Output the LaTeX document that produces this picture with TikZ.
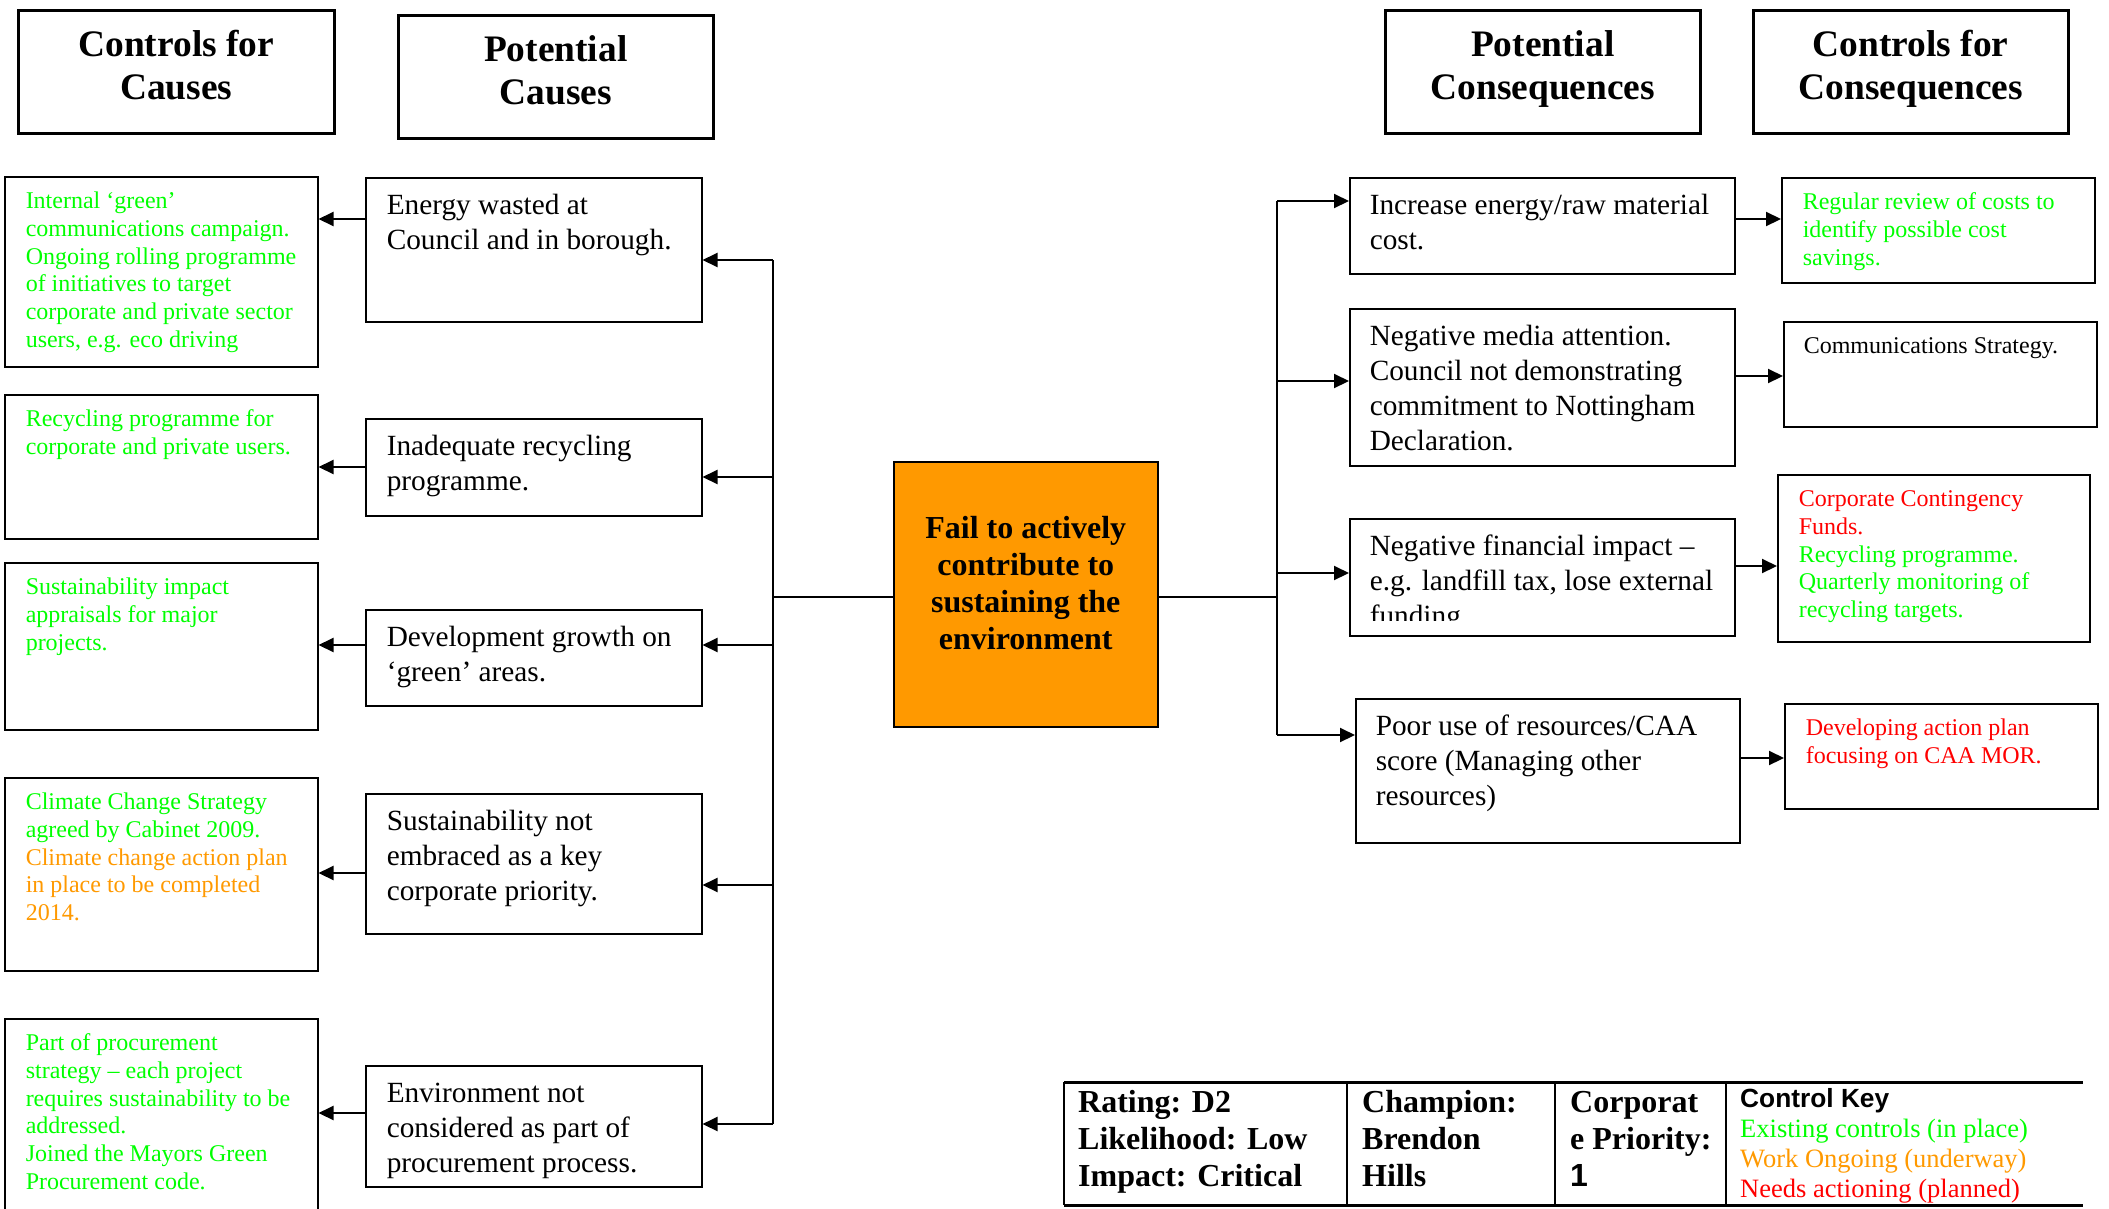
\documentclass[tikz,border=0pt]{standalone}
\usepackage{fontspec}
\setmainfont{Liberation Serif}
\newfontfamily\keysans{Liberation Sans}
\usetikzlibrary{arrows.meta}

\definecolor{inplace}{RGB}{0,255,0}
\definecolor{underway}{RGB}{255,153,0}
\definecolor{planned}{RGB}{255,0,0}
\definecolor{riskfill}{RGB}{255,153,0}

\newcommand\bodyfont{\fontsize{29.3}{35}\selectfont}
\newcommand\ctlfont{\fontsize{24}{27.7}\selectfont}
\newcommand\headfont{\fontsize{37.4}{43}\selectfont\bfseries}
\newcommand\riskfont{\fontsize{32}{37}\selectfont\bfseries}
\newcommand\keyfont{\fontsize{26.5}{30}\selectfont}

% left-aligned box text: [indent]{width}{height}{rows}
\newcommand\tb[4][21]{\parbox[c][#3pt][t]{#2pt}{\vspace*{12.5pt}\hspace*{#1pt}\begin{tabular}[t]{@{}l@{}}#4\end{tabular}}}
% centred box text: [top gap]{width}{height}{rows}
\newcommand\cb[4][15.9]{\parbox[c][#3pt][t]{#2pt}{\centering\vspace*{#1pt}\begin{tabular}[t]{@{}c@{}}#4\end{tabular}}}

\tikzset{
  box/.style={draw, line width=1.5pt, inner sep=0pt, anchor=north west},
  headbox/.style={box, line width=2.5pt, font=\headfont},
  ctlbox/.style={box, font=\ctlfont},
  causebox/.style={box, font=\bodyfont},
  riskbox/.style={box, fill=riskfill, font=\riskfont},
  arr/.style={line width=2pt, -{Triangle[length=15pt,width=14pt]}},
  wire/.style={line width=2pt},
  cell/.style={anchor=north west, inner sep=0pt},
}

\begin{document}
\begin{tikzpicture}[x=1pt,y=-1pt]
\useasboundingbox (0,0) rectangle (2109,1208);

% column headings
\node[headbox] (h1) at (17,9)    {\cb{316}{123}{Controls for\\Causes}};
\node[headbox] (h2) at (397,14)  {\cb{315}{123}{Potential\\Causes}};
\node[headbox] (h3) at (1384,9)  {\cb{315}{123}{Potential\\Consequences}};
\node[headbox] (h4) at (1752,9)  {\cb{315}{123}{Controls for\\Consequences}};

% controls for causes
\node[ctlbox, text=inplace] (k1) at (4,176) {\tb{313}{190}{Internal ‘green’\\communications campaign.\\Ongoing rolling programme\\of initiatives to target\\corporate and private sector\\users, e.g. eco driving}};
\node[ctlbox, text=inplace] (k2) at (4,394) {\tb{313}{144}{Recycling programme for\\corporate and private users.}};
\node[ctlbox, text=inplace] (k3) at (4,562) {\tb{313}{167}{Sustainability impact\\appraisals for major\\projects.}};
\node[ctlbox, text=inplace] (k4) at (4,777) {\tb{313}{193}{Climate Change Strategy\\agreed by Cabinet 2009.\\\color{underway}Climate change action plan\\\color{underway}in place to be completed\\\color{underway}2014.}};
\node[ctlbox, text=inplace] (k5) at (4,1018) {\tb{313}{196}{Part of procurement\\strategy – each project\\requires sustainability to be\\addressed.\\Joined the Mayors Green\\Procurement code.}};

% potential causes
\node[causebox] (c1) at (365,177)  {\tb{336}{144}{Energy wasted at\\Council and in borough.}};
\node[causebox] (c2) at (365,418)  {\tb{336}{97}{Inadequate recycling\\programme.}};
\node[causebox] (c3) at (365,609)  {\tb{336}{96}{Development growth on\\‘green’ areas.}};
\node[causebox] (c4) at (365,793)  {\tb{336}{140}{Sustainability not\\embraced as a key\\corporate priority.}};
\node[causebox] (c5) at (365,1065) {\tb{336}{121}{Environment not\\considered as part of\\procurement process.}};

% central risk
\node[riskbox] (risk) at (893,461) {\cb[51.1]{264}{265}{Fail to actively\\contribute to\\sustaining the\\environment}};

% potential consequences
\node[causebox] (q1) at (1349,177) {\tb[20]{385}{96}{Increase energy/raw material\\cost.}};
\node[causebox] (q2) at (1349,308) {\tb[20]{385}{157}{Negative media attention.\\Council not demonstrating\\commitment to Nottingham\\Declaration.}};
\node[causebox] (q3) at (1349,518) {\tb[20]{385}{117}{Negative financial impact –\\e.g. landfill tax, lose external\\funding}};
\fill[white] (1351,621) rectangle (1732,634);
\node[causebox] (q4) at (1355,698) {\tb[20]{384}{144}{Poor use of resources/CAA\\score (Managing other\\resources)}};

% controls for consequences
\node[ctlbox, text=inplace] (r1) at (1781,177) {\tb{313}{105}{Regular review of costs to\\identify possible cost\\savings.}};
\node[ctlbox] (r2) at (1783,321) {\tb[20]{313}{105}{Communications Strategy.}};
\node[ctlbox, text=planned] (r3) at (1777,474) {\tb{312}{167}{Corporate Contingency\\Funds.\\\color{inplace}Recycling programme.\\\color{inplace}Quarterly monitoring of\\\color{inplace}recycling targets.}};
\node[ctlbox, text=planned] (r4) at (1784,703) {\tb{313}{105}{Developing action plan\\focusing on CAA MOR.}};

% cause side connectors
\coordinate (lj)  at (773,597);
\coordinate (lj1) at (773,260);
\coordinate (lj2) at (773,477);
\coordinate (lj3) at (773,645);
\coordinate (lj4) at (773,885);
\coordinate (lj5) at (773,1124);
\draw[wire] (risk.west |- lj) -- (lj);
\draw[wire] (lj1) -- (lj5);
\draw[arr] (lj1) -- (lj1 -| c1.east);
\draw[arr] (lj2) -- (lj2 -| c2.east);
\draw[arr] (lj3) -- (lj3 -| c3.east);
\draw[arr] (lj4) -- (lj4 -| c4.east);
\draw[arr] (lj5) -- (lj5 -| c5.east);

\draw[arr] (c1.west |- 0,219)  -- (k1.east |- 0,219);
\draw[arr] (c2.west |- 0,467)  -- (k2.east |- 0,467);
\draw[arr] (c3.west |- 0,645)  -- (k3.east |- 0,645);
\draw[arr] (c4.west |- 0,873)  -- (k4.east |- 0,873);
\draw[arr] (c5.west |- 0,1113) -- (k5.east |- 0,1113);

% consequence side connectors
\coordinate (rj)  at (1277,597);
\coordinate (rj1) at (1277,201);
\coordinate (rj2) at (1277,381);
\coordinate (rj3) at (1277,573);
\coordinate (rj4) at (1277,735);
\draw[wire] (risk.east |- rj) -- (rj);
\draw[wire] (rj1) -- (rj4);
\draw[arr] (rj1) -- (rj1 -| q1.west);
\draw[arr] (rj2) -- (rj2 -| q2.west);
\draw[arr] (rj3) -- (rj3 -| q3.west);
\draw[arr] (rj4) -- (rj4 -| q4.west);

\draw[arr] (q1.east |- 0,219) -- (r1.west |- 0,219);
\draw[arr] (q2.east |- 0,376) -- (r2.west |- 0,376);
\draw[arr] (q3.east |- 0,566) -- (r3.west |- 0,566);
\draw[arr] (q4.east |- 0,758) -- (r4.west |- 0,758);

% rating table
\draw[line width=3pt] (1064,1082) -- (2083,1082);
\draw[line width=3pt] (1064,1205) -- (2083,1205);
\foreach \cx in {1064,1347,1555,1726}
  \draw[line width=2pt] (\cx,1082) -- (\cx,1205);

\node[cell, font=\riskfont] (t1) at (1078,1086.1) {\begin{tabular}[t]{@{}l@{}}Rating: D2\\Likelihood: Low\\Impact: Critical\end{tabular}};
\node[cell, font=\riskfont] (t2) at (1362,1086.1) {\begin{tabular}[t]{@{}l@{}}Champion:\\Brendon\\Hills\end{tabular}};
\node[cell, font=\riskfont] (t3) at (1570,1086.1) {\begin{tabular}[t]{@{}l@{}}Corporat\\e Priority:\\{\keysans 1}\end{tabular}};
\node[cell, font=\keyfont] (t4) at (1740,1086) {\begin{tabular}[t]{@{}l@{}}{\keysans\bfseries\fontsize{26.3}{30}\selectfont Control Key}\\\color{inplace}Existing controls (in place)\\\color{underway}Work Ongoing (underway)\\\color{planned}Needs actioning (planned)\end{tabular}};
\end{tikzpicture}
\end{document}
